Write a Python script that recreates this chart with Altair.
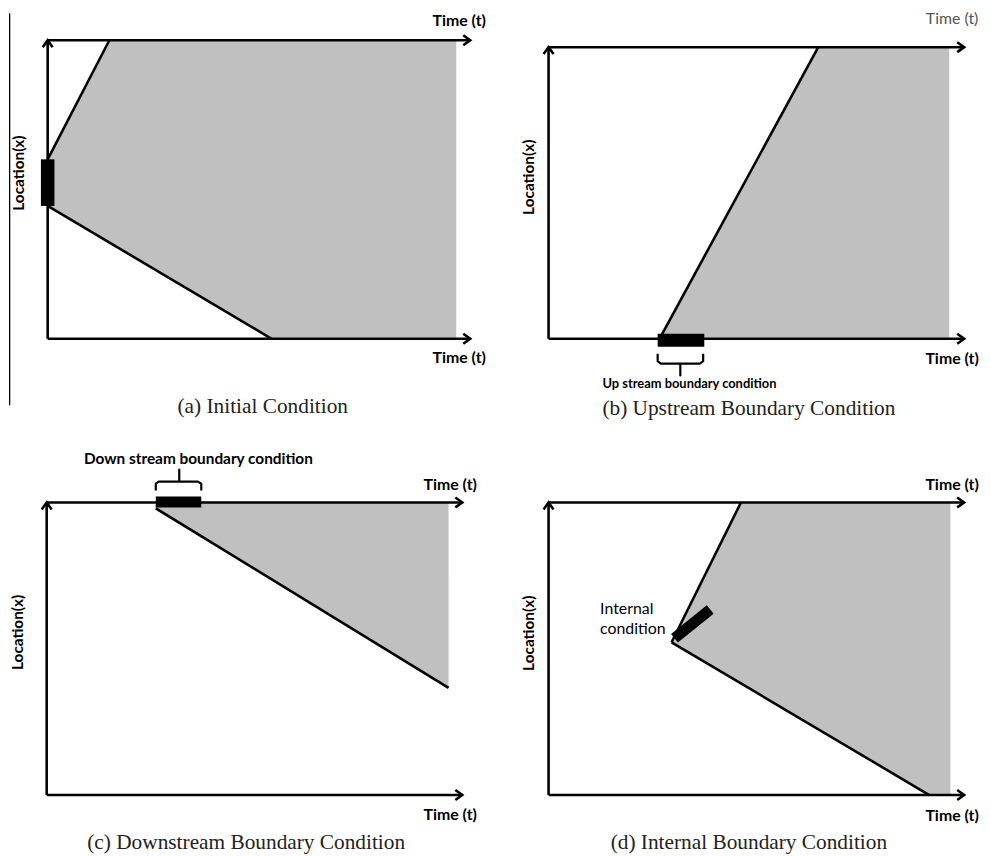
import altair as alt
import pandas as pd

GREY = "#c0c0c0"
INK = "#000000"
SANS = "Lato"
SERIF = "Liberation Serif"
LW = 2.6

# Units: t = time (0 = location axis, 1 = arrow tip), x = location (0 = bottom axis, 1 = top axis)

# ---- (a) Initial condition ----
a_upper_t = [0.0, 0.146]
a_upper_x = [0.601, 1.0]
a_lower_t = [0.0, 0.530]
a_lower_x = [0.445, 0.0]
a_fill_end = 0.967
a_bar_t = [-0.016, 0.016]
a_bar_x = [0.445, 0.601]

# ---- (b) Upstream boundary ----
b_front_t = [0.267, 0.649]
b_front_x = [0.0, 1.0]
b_fill_end = 0.964
b_bar_t = [0.2625, 0.3747]
b_bar_x = [-0.027, 0.017]
b_brace_t = [0.2625, 0.2625, 0.270, 0.310, 0.317, 0.317, 0.317, 0.324, 0.364, 0.372, 0.372]
b_brace_x = [-0.051, -0.077, -0.085, -0.085, -0.085, -0.126, -0.085, -0.085, -0.085, -0.077, -0.051]

# ---- (c) Downstream boundary ----
c_front_t = [0.2625, 0.967]
c_front_x = [0.98, 0.366]
c_bar_t = [0.2625, 0.372]
c_bar_x = [0.983, 1.020]
c_brace_t = [0.2625, 0.2625, 0.270, 0.312, 0.319, 0.319, 0.319, 0.326, 0.364, 0.372, 0.372]
c_brace_x = [1.041, 1.064, 1.071, 1.071, 1.071, 1.112, 1.071, 1.071, 1.071, 1.064, 1.041]

# ---- (d) Internal boundary ----
d_upper_t = [0.296, 0.463]
d_upper_x = [0.522, 1.0]
d_lower_t = [0.296, 0.916]
d_lower_x = [0.522, 0.0]
d_fill_end = 0.967
d_bar_t = [0.303, 0.389]
d_bar_x = [0.536, 0.634]

# ---- labels ----
time_label = "Time (t)"
loc_label = "Location(x)"
captions = ["(a) Initial Condition", "(b) Upstream Boundary Condition",
            "(c) Downstream Boundary Condition", "(d) Internal Boundary Condition"]
up_label = "Up stream boundary condition"
down_label = "Down stream boundary condition"
internal_lines = ["Internal", "condition"]

# label anchors in panel units (t, x)
time_top = {"a": (0.974, 1.063), "b": (0.971, 1.095), "c": (0.971, 1.061), "d": (0.971, 1.061)}
time_bot = {"a": (0.974, -0.066), "b": (0.971, -0.068), "c": (0.971, -0.068), "d": (0.971, -0.071)}
loc_pos = {"a": (-0.068, 0.555), "b": (-0.046, 0.554), "c": (-0.068, 0.556), "d": (-0.046, 0.553)}
cap_pos = {"a": (0.509, -0.230), "b": (0.482, -0.242), "c": (0.480, -0.163), "d": (0.482, -0.163)}

# panel layout in pixels (view size, axis origin, axis lengths)
LAYOUT = {
    "a": dict(W=492, H=412, ox=40, oy=327, lx=426, ly=301),
    "b": dict(W=491, H=412, ox=53, oy=327, lx=419, ly=294),
    "c": dict(W=492, H=436, ox=39, oy=375, lx=419, ly=295),
    "d": dict(W=491, H=436, ox=53, oy=375, lx=419, ly=295),
}

ARROW = "M-1.4,-1L0,0L-1.4,1"


def panel(key, layers_fn):
    L = LAYOUT[key]
    sx = alt.Scale(domain=[-L["ox"] / L["lx"], (L["W"] - L["ox"]) / L["lx"]], nice=False, zero=False)
    sy = alt.Scale(domain=[(L["oy"] - L["H"]) / L["ly"], L["oy"] / L["ly"]], nice=False, zero=False)
    X = lambda f="t": alt.X(f"{f}:Q", scale=sx, axis=None)
    Y = lambda f="x": alt.Y(f"{f}:Q", scale=sy, axis=None)

    layers = layers_fn(X, Y)

    # axes
    ax = pd.DataFrame({"t": [0, 0, 0], "t2": [1, 1, 0], "x": [0, 1, 0], "x2": [0, 1, 1]})
    layers.append(alt.Chart(ax).mark_rule(color=INK, strokeWidth=LW).encode(
        x=X(), x2="t2:Q", y=Y(), y2="x2:Q"))
    rarrow = pd.DataFrame({"t": [1, 1], "x": [0, 1]})
    layers.append(alt.Chart(rarrow).mark_point(shape=ARROW, filled=False, stroke=INK, strokeWidth=LW,
                                               size=100, opacity=1).encode(x=X(), y=Y()))
    uarrow = pd.DataFrame({"t": [0], "x": [1]})
    layers.append(alt.Chart(uarrow).mark_point(shape=ARROW, filled=False, stroke=INK, strokeWidth=LW,
                                               size=100, opacity=1, angle=270).encode(x=X(), y=Y()))

    # texts
    tt = pd.DataFrame({"t": [time_top[key][0], time_bot[key][0]],
                       "x": [time_top[key][1], time_bot[key][1]], "s": [time_label, time_label]})
    if key == "b":
        layers.append(alt.Chart(tt.iloc[:1]).mark_text(font=SANS, fontSize=16, color="#555555").encode(
            x=X(), y=Y(), text="s:N"))
        layers.append(alt.Chart(tt.iloc[1:]).mark_text(font=SANS, fontSize=16, fontWeight="bold", color=INK).encode(
            x=X(), y=Y(), text="s:N"))
    else:
        layers.append(alt.Chart(tt).mark_text(font=SANS, fontSize=16, fontWeight="bold", color=INK).encode(
            x=X(), y=Y(), text="s:N"))
    lp = pd.DataFrame({"t": [loc_pos[key][0]], "x": [loc_pos[key][1]], "s": [loc_label]})
    layers.append(alt.Chart(lp).mark_text(font=SANS, fontSize=15.5, fontWeight="bold", angle=270,
                                          baseline="middle", color=INK).encode(x=X(), y=Y(), text="s:N"))
    cp = pd.DataFrame({"t": [cap_pos[key][0]], "x": [cap_pos[key][1]], "s": [captions["abcd".index(key)]]})
    layers.append(alt.Chart(cp).mark_text(font=SERIF, fontSize=21.5, color="#222222").encode(
        x=X(), y=Y(), text="s:N"))

    return alt.layer(*layers).properties(width=L["W"], height=L["H"])


def seg(ts, xs):
    return pd.DataFrame({"t": ts, "x": xs, "i": list(range(len(ts)))})


def line(df, X, Y, w=LW):
    return alt.Chart(df).mark_line(color=INK, strokeWidth=w, strokeJoin="round").encode(
        x=X(), y=Y(), order="i:Q")


def white_area(ts, xs, edge, X, Y):
    df = pd.DataFrame({"t": ts, "x": xs, "x2": [edge] * len(ts)})
    return alt.Chart(df).mark_area(color="white", opacity=1, stroke="white", strokeWidth=2).encode(
        x=X(), y=Y(), y2="x2:Q")


def grey_rect(t0, t1, X, Y):
    df = pd.DataFrame({"t": [t0], "t2": [t1], "x": [0], "x2": [1]})
    return alt.Chart(df).mark_rect(color=GREY).encode(x=X(), x2="t2:Q", y=Y(), y2="x2:Q")


def black_rect(ts, xs, X, Y):
    df = pd.DataFrame({"t": [ts[0]], "t2": [ts[1]], "x": [xs[0]], "x2": [xs[1]]})
    return alt.Chart(df).mark_rect(color=INK).encode(x=X(), x2="t2:Q", y=Y(), y2="x2:Q")


def layers_a(X, Y):
    out = [grey_rect(0, a_fill_end, X, Y),
           white_area(a_upper_t, a_upper_x, 1, X, Y),
           white_area(a_lower_t, a_lower_x, 0, X, Y),
           line(seg(a_upper_t, a_upper_x), X, Y),
           line(seg(a_lower_t, a_lower_x), X, Y),
           black_rect(a_bar_t, a_bar_x, X, Y)]
    # page border line at the far left
    out.append(alt.Chart(pd.DataFrame({"t": [-0.090], "x": [1.090], "x2": [-0.223]})).mark_rule(
        color=INK, strokeWidth=1.3).encode(x=X(), y=Y(), y2="x2:Q"))
    return out


def layers_b(X, Y):
    out = [grey_rect(b_front_t[0], b_fill_end, X, Y),
           white_area(b_front_t, b_front_x, 1, X, Y),
           line(seg(b_front_t, b_front_x), X, Y),
           black_rect(b_bar_t, b_bar_x, X, Y),
           line(seg(b_brace_t, b_brace_x), X, Y, w=2.2)]
    out.append(alt.Chart(pd.DataFrame({"t": [0.339], "x": [-0.156], "s": [up_label]})).mark_text(
        font=SANS, fontSize=13, fontWeight="bold", color=INK).encode(x=X(), y=Y(), text="s:N"))
    return out


def layers_c(X, Y):
    out = [alt.Chart(pd.DataFrame({"t": c_front_t, "x": c_front_x, "x2": [1, 1]})).mark_area(
        color=GREY, opacity=1).encode(x=X(), y=Y(), y2="x2:Q"),
           line(seg(c_front_t, c_front_x), X, Y),
           black_rect(c_bar_t, c_bar_x, X, Y),
           line(seg(c_brace_t, c_brace_x), X, Y, w=2.2)]
    out.append(alt.Chart(pd.DataFrame({"t": [0.365], "x": [1.149], "s": [down_label]})).mark_text(
        font=SANS, fontSize=15.5, fontWeight="bold", color=INK).encode(x=X(), y=Y(), text="s:N"))
    return out


def layers_d(X, Y):
    out = [grey_rect(d_upper_t[0], d_fill_end, X, Y),
           white_area(d_upper_t, d_upper_x, 1, X, Y),
           white_area(d_lower_t, d_lower_x, 0, X, Y),
           line(seg(d_upper_t, d_upper_x), X, Y),
           line(seg(d_lower_t, d_lower_x), X, Y)]
    out.append(alt.Chart(seg(d_bar_t, d_bar_x)).mark_line(color=INK, strokeWidth=11, strokeCap="butt").encode(
        x=X(), y=Y(), order="i:Q"))
    out.append(alt.Chart(pd.DataFrame({"t": [0.124, 0.124], "x": [0.637, 0.566], "s": internal_lines})).mark_text(
        font=SANS, fontSize=16, align="left", color=INK).encode(x=X(), y=Y(), text="s:N"))
    return out


pa = panel("a", layers_a)
pb = panel("b", layers_b)
pc = panel("c", layers_c)
pd_ = panel("d", layers_d)

chart = alt.concat(pa, pb, pc, pd_, columns=2, spacing=0, bounds="flush").resolve_scale(
    x="independent", y="independent").properties(padding=0).configure_view(stroke=None)

chart.save("out.html", embed_options={"renderer": "svg", "actions": False})
